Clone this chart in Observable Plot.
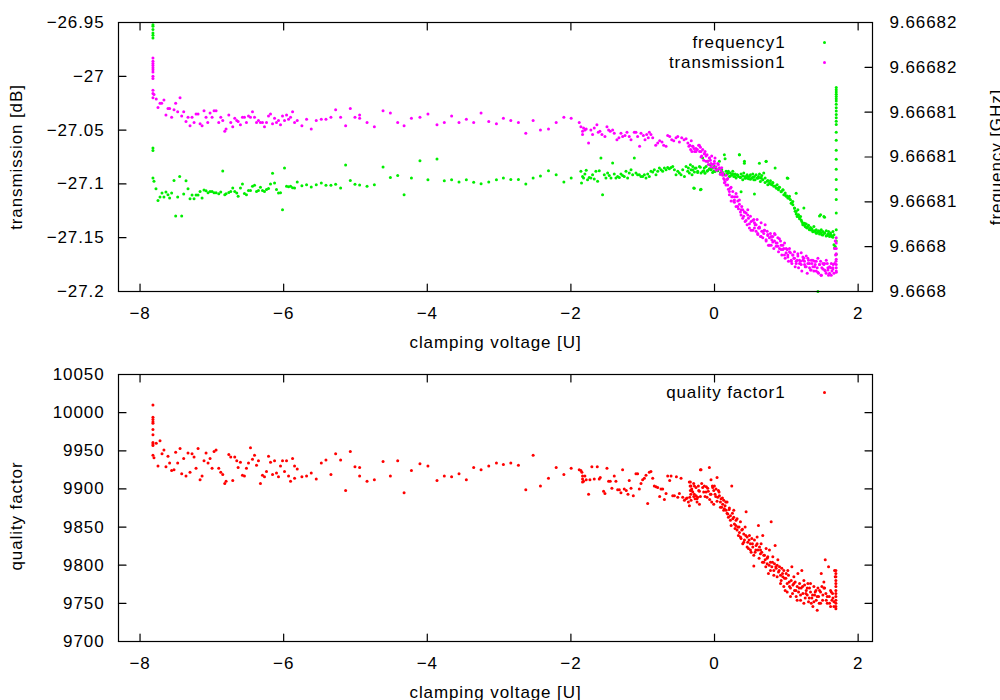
<!DOCTYPE html>
<html><head><meta charset="utf-8">
<script src="https://cdn.jsdelivr.net/npm/d3@7"></script>
<script src="https://cdn.jsdelivr.net/npm/@observablehq/plot@0.6"></script>
<style>
body{margin:0;background:#fff;}
#chart{position:relative;width:1000px;height:700px;overflow:hidden;background:#fff;}
#chart svg{position:absolute;left:0;overflow:visible;}
</style></head><body><div id="chart"></div>
<script>
// ---- axes / ticks ----
const xDomain = [-8.3, 2.2];
const xTicks = [-8, -6, -4, -2, 0, 2];
const transDomain = [-27.2, -26.95];
const transTicks = [-26.95, -27, -27.05, -27.1, -27.15, -27.2];
const freqBaseGHz = 9.6668;              // frequency stored as offset in kHz above this
const freqDomainKHz = [-2, 22];
const freqTicksKHz = [22, 18, 14, 10, 6, 2, -2];
const qDomain = [9700, 10050];
const qTicks = [9700, 9750, 9800, 9850, 9900, 9950, 10000, 10050];

// ---- data: [clamping voltage U, transmission dB] ----
const transmissionData = [
[-7.82,-26.983],[-7.82,-26.986],[-7.82,-26.988],[-7.82,-26.990],[-7.82,-26.992],[-7.82,-26.994],[-7.82,-26.996],[-7.82,-27.000],[-7.82,-27.002],[-7.82,-27.013],[-7.82,-27.016],[-7.82,-27.020],
[-7.806,-27.017],[-7.774,-27.021],[-7.750,-27.029],[-7.722,-27.025],[-7.699,-27.025],[-7.667,-27.022],[-7.639,-27.036],[-7.611,-27.030],[-7.588,-27.030],[-7.560,-27.038],
[-7.527,-27.031],[-7.504,-27.025],[-7.476,-27.033],[-7.443,-27.020],[-7.420,-27.037],[-7.392,-27.033],[-7.360,-27.042],[-7.332,-27.038],[-7.304,-27.046],[-7.276,-27.038],
[-7.248,-27.043],[-7.220,-27.035],[-7.192,-27.035],[-7.164,-27.044],[-7.136,-27.046],[-7.109,-27.032],[-7.081,-27.038],[-7.057,-27.043],[-7.025,-27.034],[-6.997,-27.038],
[-6.969,-27.032],[-6.941,-27.032],[-6.904,-27.043],[-6.876,-27.038],[-6.848,-27.041],[-6.820,-27.051],[-6.802,-27.049],[-6.764,-27.036],[-6.737,-27.043],[-6.709,-27.047],
[-6.681,-27.039],[-6.653,-27.041],[-6.634,-27.042],[-6.602,-27.045],[-6.574,-27.038],[-6.546,-27.038],[-6.518,-27.043],[-6.490,-27.037],[-6.462,-27.038],[-6.434,-27.033],
[-6.406,-27.038],[-6.378,-27.043],[-6.351,-27.041],[-6.323,-27.043],[-6.295,-27.043],[-6.267,-27.047],[-6.239,-27.043],[-6.211,-27.037],[-6.183,-27.035],[-6.155,-27.044],
[-6.127,-27.039],[-6.100,-27.043],[-6.072,-27.041],[-6.044,-27.045],[-6.016,-27.037],[-5.988,-27.041],[-5.960,-27.036],[-5.932,-27.040],[-5.904,-27.038],[-5.876,-27.033],
[-5.848,-27.043],[-5.811,-27.041],[-5.746,-27.046],[-5.681,-27.040],[-5.616,-27.049],[-5.546,-27.041],[-5.476,-27.040],[-5.411,-27.040],[-5.342,-27.038],[-5.276,-27.031],
[-5.207,-27.038],[-5.137,-27.046],[-5.072,-27.030],[-5.007,-27.038],[-4.942,-27.036],[-4.942,-27.039],[-4.839,-27.043],[-4.737,-27.047],[-4.616,-27.032],[-4.514,-27.034],
[-4.412,-27.043],[-4.323,-27.046],[-4.221,-27.039],
[-4.102,-27.038],[-3.991,-27.035],[-3.865,-27.045],[-3.763,-27.043],[-3.661,-27.037],[-3.558,-27.043],[-3.456,-27.040],[-3.354,-27.043],[-3.251,-27.034],[-3.144,-27.042],
[-3.037,-27.044],[-2.940,-27.039],[-2.837,-27.041],[-2.731,-27.043],[-2.628,-27.053],[-2.526,-27.041],[-2.424,-27.050],[-2.312,-27.049],[-2.205,-27.043],[-2.098,-27.038],
[-1.996,-27.039],[-1.884,-27.043],[-1.861,-27.047],[-1.838,-27.051],[-1.824,-27.048],[-1.805,-27.050],[-1.838,-27.054],[-1.787,-27.049],[-1.754,-27.062],[-1.722,-27.050],
[-1.698,-27.054],[-1.675,-27.048],[-1.638,-27.045],[-1.619,-27.052],[-1.596,-27.051],[-1.568,-27.054],[-1.526,-27.056],[-1.498,-27.047],[-1.475,-27.050],[-1.452,-27.051],
[-1.419,-27.050],[-1.396,-27.053],[-1.359,-27.059],[-1.331,-27.057],[-1.303,-27.053],[-1.280,-27.056],[-1.247,-27.055],[-1.219,-27.052],[-1.187,-27.056],[-1.163,-27.059],
[-1.117,-27.052],[-1.094,-27.052],[-1.071,-27.056],[-1.043,-27.065],[-1.024,-27.053],[-0.991,-27.055],[-0.968,-27.059],[-0.945,-27.054],[-0.922,-27.057],[-0.908,-27.052],
[-0.885,-27.054],[-0.861,-27.057],[-0.819,-27.064],[-0.791,-27.062],[-0.764,-27.060],[-0.731,-27.061],[-0.708,-27.064],[-0.675,-27.065],[-0.652,-27.055],[-0.624,-27.056],
[-0.596,-27.059],[-0.568,-27.060],[-0.536,-27.057],[-0.512,-27.056],[-0.489,-27.061],[-0.457,-27.057],[-0.424,-27.059],[-0.396,-27.058],[-0.371,-27.062],[-0.357,-27.065],
[-0.343,-27.064],[-0.333,-27.068],[-0.324,-27.060],[-0.315,-27.070],[-0.301,-27.065],[-0.287,-27.067],[-0.277,-27.070],[-0.259,-27.067],[-0.240,-27.068],[-0.221,-27.064],
[-0.207,-27.070],[-0.196,-27.066],
[-0.188,-27.070],[-0.165,-27.068],[-0.142,-27.072],[-0.118,-27.074],[-0.095,-27.079],[-0.072,-27.076],[-0.049,-27.081],[-0.025,-27.082],[-0.002,-27.079],[0.021,-27.084],
[0.045,-27.081],[0.068,-27.085],[0.091,-27.088],[0.114,-27.090],[0.128,-27.095],[0.147,-27.098],[0.161,-27.092],[0.184,-27.101],[0.193,-27.105],[0.207,-27.110],
[0.221,-27.104],[0.240,-27.112],[0.254,-27.107],[0.268,-27.116],[0.277,-27.115],[0.300,-27.121],[0.314,-27.112],[0.333,-27.123],[0.347,-27.119],[0.361,-27.126],
[0.370,-27.129],[0.393,-27.124],[0.407,-27.130],[0.426,-27.135],[0.440,-27.127],[0.454,-27.138],[0.472,-27.132],[0.486,-27.141],[0.510,-27.135],[0.533,-27.143],
[0.556,-27.136],[0.579,-27.144],[0.603,-27.147],[0.626,-27.141],[0.640,-27.149],[0.658,-27.144],[0.672,-27.150],[0.696,-27.143],[0.719,-27.153],[0.742,-27.147],
[0.765,-27.150],[0.789,-27.157],[0.812,-27.149],[0.835,-27.153],[0.858,-27.158],[0.882,-27.150],[0.905,-27.160],[0.928,-27.157],[0.951,-27.161],[0.975,-27.155],
[0.998,-27.164],[1.021,-27.166],[1.044,-27.160],[1.068,-27.171],[1.091,-27.166],[1.114,-27.163],[1.137,-27.172],[1.161,-27.167],[1.184,-27.174],[1.207,-27.164],
[1.230,-27.171],[1.254,-27.175],[1.277,-27.167],[1.300,-27.174],[1.323,-27.178],[1.347,-27.171],[1.370,-27.177],[1.393,-27.172],[1.416,-27.181],[1.440,-27.169],
[1.463,-27.175],[1.486,-27.185],[1.509,-27.174],[1.533,-27.180],[1.556,-27.171],[1.579,-27.178],[1.602,-27.183],[1.626,-27.174],[1.649,-27.178],[1.663,-27.183],
[1.672,-27.160],[1.681,-27.153],[1.686,-27.166],[1.691,-27.172],[1.695,-27.178],[1.695,-27.181],
[-0.179,-27.074],[-0.151,-27.078],[-0.132,-27.070],[-0.104,-27.073],[-0.086,-27.082],[-0.058,-27.078],[-0.039,-27.074],[-0.011,-27.085],[0.007,-27.076],[0.035,-27.087],
[0.054,-27.082],[0.082,-27.091],[0.100,-27.085],[0.138,-27.099],[0.175,-27.096],[0.231,-27.116],[0.286,-27.112],[0.324,-27.116],[0.379,-27.121],[0.417,-27.126],
[0.463,-27.124],[0.500,-27.130],[0.547,-27.133],[0.565,-27.138],[0.593,-27.133],[0.612,-27.141],[0.649,-27.136],[0.686,-27.146],[0.705,-27.138],[0.733,-27.144],
[0.751,-27.157],[0.779,-27.146],[0.798,-27.152],[0.826,-27.160],[0.844,-27.147],[0.872,-27.155],[0.891,-27.163],[0.919,-27.153],[0.937,-27.166],[0.965,-27.160],
[0.984,-27.169],[1.012,-27.161],[1.030,-27.172],[1.058,-27.164],[1.077,-27.174],[1.105,-27.169],[1.123,-27.177],[1.151,-27.171],[1.170,-27.178],[1.198,-27.172],
[1.216,-27.181],[1.244,-27.169],[1.263,-27.177],[1.291,-27.183],[1.309,-27.171],[1.337,-27.180],[1.356,-27.174],[1.384,-27.181],[1.402,-27.175],[1.430,-27.178],
[1.449,-27.183],[1.477,-27.172],[1.495,-27.178],[1.523,-27.175],[1.542,-27.181],[1.570,-27.174],[1.588,-27.185],[1.616,-27.178],[1.635,-27.181],[1.653,-27.175],
[1.695,-27.150],[1.695,-27.155],[1.695,-27.160],[1.695,-27.165],[1.695,-27.170],[1.695,-27.175],
[-0.305,-27.065],[-0.258,-27.070],[-0.212,-27.064],[-0.188,-27.075],[-0.142,-27.072],[-0.119,-27.079],[-0.072,-27.076],[-0.049,-27.084],[-0.002,-27.081],[0.021,-27.087],
[0.067,-27.086],[0.114,-27.092],[0.137,-27.096],[0.160,-27.101],[0.184,-27.095],[0.207,-27.107],[0.230,-27.103],[0.253,-27.112],[0.277,-27.117],[0.300,-27.109],
[0.323,-27.121],[0.346,-27.115],[0.370,-27.124],[0.393,-27.132],[0.416,-27.126],[0.439,-27.134],[0.463,-27.129],[0.486,-27.137],[0.509,-27.143],[0.532,-27.134],
[0.556,-27.141],[0.579,-27.138],[0.602,-27.146],[0.625,-27.140],[0.649,-27.149],[0.672,-27.144],[0.695,-27.143],[0.718,-27.152],[0.742,-27.148],[0.765,-27.157],
[0.788,-27.149],[0.811,-27.154],[0.835,-27.146],[0.858,-27.155],[0.881,-27.158],[0.904,-27.151],[0.928,-27.161],[0.951,-27.157],[0.974,-27.166],[0.997,-27.160],
[1.021,-27.168],[1.044,-27.163],[1.067,-27.172],[1.090,-27.166],[1.114,-27.169],[1.137,-27.174],[1.160,-27.165],[1.183,-27.171],[1.207,-27.175],[1.230,-27.168],
[1.253,-27.172],[1.276,-27.177],[1.300,-27.169],[1.323,-27.174],[1.346,-27.180],[1.369,-27.171],[1.393,-27.177],[1.416,-27.172],[1.439,-27.182],[1.462,-27.175],
[1.486,-27.185],[1.509,-27.179],[1.532,-27.174],[1.555,-27.183],[1.579,-27.180],[1.602,-27.177],[1.625,-27.185],[1.648,-27.179],[1.672,-27.174],[1.695,-27.182]
];

// ---- data: [clamping voltage U, frequency offset kHz above 9.6668 GHz] ----
const frequencyData = [
[-7.82,21.81],[-7.82,21.66],[-7.82,21.37],[-7.82,21.07],[-7.82,20.86],[-7.82,20.62],[-7.82,10.80],[-7.82,10.59],[-7.82,8.12],
[-7.806,7.83],[-7.778,7.17],[-7.750,6.13],[-7.722,6.43],[-7.694,6.78],[-7.667,6.43],[-7.639,6.87],[-7.611,6.63],[-7.588,6.34],[-7.560,6.78],
[-7.527,7.91],[-7.504,4.73],[-7.476,6.43],[-7.448,8.27],[-7.420,4.73],[-7.392,6.69],[-7.360,7.88],[-7.332,7.17],[-7.304,6.28],[-7.276,6.60],
[-7.248,6.28],[-7.220,6.60],[-7.192,6.60],[-7.164,6.93],[-7.136,6.34],[-7.109,7.05],[-7.081,6.99],[-7.053,6.81],[-7.025,6.93],[-6.997,6.93],
[-6.969,6.81],[-6.941,6.81],[-6.904,6.72],[-6.876,6.87],[-6.848,8.75],[-6.820,6.63],[-6.802,6.72],[-6.764,6.84],[-6.737,6.93],[-6.709,7.23],
[-6.681,6.93],[-6.653,6.78],[-6.634,6.49],[-6.602,7.23],[-6.574,7.59],[-6.546,6.75],[-6.518,6.63],[-6.490,7.02],[-6.462,7.02],[-6.434,7.38],
[-6.406,7.47],[-6.378,6.93],[-6.351,7.02],[-6.323,7.29],[-6.295,7.02],[-6.267,6.93],[-6.239,7.11],[-6.211,7.20],[-6.183,7.59],[-6.155,8.54],
[-6.127,7.68],[-6.100,7.11],[-6.072,6.78],[-6.044,6.81],[-6.016,5.30],[-5.988,9.02],[-5.960,7.38],[-5.932,7.35],[-5.904,7.38],[-5.876,7.26],
[-5.848,7.23],[-5.811,7.77],[-5.746,7.44],[-5.681,7.53],[-5.616,7.32],[-5.546,7.53],[-5.476,7.68],[-5.411,7.47],[-5.342,7.47],[-5.276,7.56],
[-5.207,7.23],[-5.137,9.28],[-5.072,7.91],[-5.007,7.56],[-4.942,7.50],[-4.839,7.38],[-4.737,7.53],[-4.616,9.10],[-4.514,8.18],[-4.412,8.36],
[-4.323,6.63],[-4.221,8.12],
[-4.102,9.67],[-3.991,7.97],[-3.865,9.82],[-3.763,7.88],[-3.661,7.97],[-3.558,7.77],[-3.456,7.97],[-3.354,7.74],[-3.251,7.62],[-3.144,7.77],
[-3.037,7.97],[-2.940,8.12],[-2.837,8.00],[-2.731,8.00],[-2.628,7.59],[-2.526,8.12],[-2.424,8.30],[-2.312,8.78],[-2.205,8.42],[-2.098,7.77],
[-1.996,8.12],[-1.861,8.72],[-1.852,7.68],[-1.838,8.27],[-1.824,8.12],[-1.805,8.48],[-1.787,8.81],[-1.768,7.97],[-1.745,8.18],[-1.722,8.12],
[-1.698,8.42],[-1.675,8.03],[-1.652,8.72],[-1.628,7.83],[-1.605,8.78],[-1.582,9.91],[-1.559,6.63],[-1.535,8.42],[-1.512,8.12],[-1.489,8.57],
[-1.466,8.36],[-1.442,8.12],[-1.419,9.46],[-1.396,8.48],[-1.373,8.12],[-1.349,8.27],[-1.326,8.18],[-1.303,8.48],[-1.280,8.36],[-1.257,8.27],
[-1.233,8.72],[-1.210,8.12],[-1.187,8.57],[-1.163,8.87],[-1.140,8.42],[-1.117,9.91],[-1.094,8.57],[-1.071,8.42],[-1.047,8.42],[-1.024,8.27],
[-1.001,8.27],[-0.977,8.42],[-0.954,8.12],[-0.931,8.48],[-0.908,8.27],[-0.885,8.72],[-0.861,8.66],[-0.838,8.87],[-0.815,8.42],[-0.791,8.72],
[-0.768,9.02],[-0.745,8.87],[-0.722,8.72],[-0.698,9.02],[-0.675,8.87],[-0.652,9.07],[-0.629,8.96],[-0.605,9.07],[-0.582,9.16],[-0.559,8.87],
[-0.536,8.42],[-0.512,8.72],[-0.489,8.57],[-0.466,8.42],[-0.443,8.87],[-0.419,8.27],[-0.396,9.16],[-0.373,8.72],[-0.364,9.02],[-0.350,8.57],
[-0.336,9.31],[-0.327,8.87],[-0.313,8.42],[-0.303,9.16],[-0.289,7.23],[-0.280,8.66],[-0.257,9.02],[-0.234,8.72],[-0.210,9.16],[-0.196,7.08],
[-0.188,8.57],[-0.165,9.91],[-0.151,8.78],[-0.142,9.02],[-0.118,9.16],[-0.104,8.72],[-0.095,9.61],[-0.072,8.96],[-0.058,9.31],[-0.049,8.87],
[-0.025,9.02],[-0.011,8.72],[-0.002,9.16],[0.021,8.96],[0.045,8.78],[0.068,9.61],[0.082,8.57],[0.100,8.87],[0.128,8.48],[0.147,9.85],
[0.161,8.72],[0.175,8.48],[0.193,8.72],[0.207,8.27],[0.221,8.57],[0.240,8.42],[0.254,8.72],[0.268,8.27],[0.286,8.48],[0.300,8.12],
[0.314,8.42],[0.333,8.27],[0.347,10.21],[0.361,8.18],[0.370,8.48],[0.393,7.97],[0.407,8.57],[0.417,9.61],[0.426,8.27],[0.440,8.12],
[0.454,8.42],[0.472,8.06],[0.486,8.27],[0.500,8.42],[0.519,8.12],[0.533,8.48],[0.547,7.97],[0.556,8.27],[0.579,8.42],[0.593,8.12],
[0.612,8.27],[0.626,8.48],[0.640,8.12],[0.649,8.18],[0.658,8.36],[0.672,7.97],[0.686,8.57],[0.705,8.12],[0.719,9.61],[0.733,7.83],
[0.742,7.53],[0.765,7.68],[0.779,7.88],[0.798,7.53],[0.812,7.68],[0.826,7.38],[0.844,9.02],[0.858,7.23],[0.872,7.53],[0.891,7.08],
[0.905,7.29],[0.928,6.93],[0.951,7.08],[0.965,6.63],[0.984,6.78],[0.998,6.49],[1.012,8.12],[1.021,6.34],[1.044,6.49],[1.058,6.19],
[1.077,5.89],[1.091,5.74],[1.114,5.44],[1.123,5.15],[1.137,4.91],[1.151,4.70],[1.161,5.30],[1.170,4.85],[1.184,4.49],[1.198,4.70],
[1.216,4.25],[1.230,3.96],[1.244,5.44],[1.254,4.10],[1.263,3.81],[1.277,4.02],[1.291,3.66],[1.309,3.90],[1.323,3.51],[1.337,3.72],
[1.356,3.60],[1.370,3.42],[1.384,3.81],[1.402,3.36],[1.416,3.51],[1.430,3.21],[1.449,3.42],[1.463,3.36],[1.477,4.85],[1.486,3.51],
[1.495,3.06],[1.509,3.36],[1.523,4.70],[1.533,3.21],[1.556,3.42],[1.570,3.00],[1.588,3.36],[1.602,3.06],[1.616,3.21],[1.635,2.91],
[1.649,3.36],[1.663,3.06],[1.663,2.17],[1.672,1.87],[1.681,2.02],[1.440,-1.99],
[1.695,16.2],[1.695,16.0],[1.695,15.8],[1.695,15.6],[1.695,15.4],[1.695,15.2],[1.695,15.0],[1.695,14.7],[1.695,14.4],[1.695,14.1],
[1.695,13.8],[1.695,13.5],[1.695,13.2],[1.695,12.9],[1.695,12.2],[1.695,11.5],[1.695,10.6],[1.695,9.8],[1.695,8.9],[1.695,8.0],
[1.695,7.1],[1.695,6.2],[1.695,5.0],[1.695,3.5],[1.695,2.5],[1.695,1.3],
[-0.305,8.85],[-0.272,9.00],[-0.235,8.61],[-0.198,9.09],[-0.165,8.70],[-0.133,8.55],[-0.096,8.79],[-0.058,8.91],[-0.026,8.61],[0.007,8.70],
[0.044,8.85],[0.081,8.49],[0.114,8.61],[0.146,8.40],[0.184,8.55],[0.221,8.31],[0.253,8.49],[0.286,8.25],[0.323,8.40],[0.360,8.19],
[0.393,8.31],[0.425,8.10],[0.463,8.25],[0.500,8.02],[0.532,8.19],[0.565,7.96],[0.602,8.10],[0.639,7.81],[0.672,7.96],[0.704,7.72],
[0.742,7.90],[0.779,7.60],[0.811,7.72],[0.844,7.42],[0.872,7.21],[0.900,7.30],[0.928,6.91],[0.955,7.06],[0.983,6.62],[1.011,6.53],
[1.039,6.32],[1.067,5.87],[1.090,6.02],[1.114,5.43],[1.137,5.13],[1.160,4.83],[1.183,4.62],[1.207,4.38],[1.230,4.09],[1.253,3.94],
[1.276,3.73],[1.300,3.79],[1.323,3.55],[1.346,3.49],[1.369,3.34],[1.393,3.43],[1.416,3.19],[1.439,3.34],[1.462,3.13],[1.486,3.25],
[1.509,3.05],[1.532,3.19],[1.555,2.96],[1.579,3.13],[1.602,2.90],[1.625,3.02],[1.648,2.84],[0.137,10.19],[0.346,10.19],[0.416,9.44],
[0.625,9.44],[0.718,9.59],[1.021,8.10],[1.137,6.77],[1.462,4.74],[1.532,4.62],[-0.282,7.21],[-0.188,7.12],[0.370,6.91],[0.556,6.71]
];

// ---- data: [clamping voltage U, quality factor] ----
const qualityData = [
[-7.82,10010],[-7.82,9994],[-7.82,9991],[-7.82,9988],[-7.82,9986],[-7.82,9978],[-7.82,9971],[-7.82,9961],[-7.82,9959],[-7.82,9957],[-7.82,9944],
[-7.806,9941],[-7.774,9960],[-7.750,9930],[-7.722,9963],[-7.694,9946],[-7.667,9951],[-7.639,9929],[-7.611,9943],[-7.588,9934],[-7.560,9924],
[-7.527,9925],[-7.504,9948],[-7.476,9934],[-7.443,9953],[-7.420,9920],[-7.392,9940],[-7.360,9917],[-7.332,9947],[-7.304,9922],[-7.276,9946],
[-7.248,9942],[-7.220,9927],[-7.192,9953],[-7.164,9912],[-7.136,9917],[-7.109,9937],[-7.081,9947],[-7.053,9934],[-7.025,9940],[-6.997,9927],
[-6.969,9949],[-6.941,9951],[-6.904,9927],[-6.876,9922],[-6.848,9919],[-6.820,9907],[-6.802,9910],[-6.764,9945],[-6.737,9942],[-6.709,9911],
[-6.681,9942],[-6.653,9937],[-6.634,9928],[-6.602,9935],[-6.574,9918],[-6.546,9917],[-6.518,9927],[-6.490,9934],[-6.462,9954],[-6.434,9939],
[-6.406,9944],[-6.378,9931],[-6.351,9937],[-6.323,9907],[-6.295,9918],[-6.267,9916],[-6.239,9923],[-6.211,9943],[-6.183,9935],[-6.155,9919],
[-6.127,9937],[-6.100,9921],[-6.072,9916],[-6.044,9930],[-6.016,9937],[-5.988,9923],[-5.960,9937],[-5.932,9917],[-5.904,9910],[-5.876,9940],
[-5.848,9930],[-5.811,9926],[-5.848,9914],[-5.746,9916],[-5.681,9917],[-5.616,9921],[-5.546,9913],[-5.476,9934],[-5.411,9938],[-5.342,9919],
[-5.276,9946],[-5.207,9938],[-5.137,9898],[-5.072,9949],[-5.007,9929],[-4.942,9928],[-4.942,9917],[-4.839,9910],[-4.737,9912],[-4.616,9936],
[-4.514,9917],[-4.412,9937],[-4.323,9895],[-4.221,9924],
[-4.102,9933],[-3.991,9930],[-3.865,9911],[-3.763,9917],[-3.661,9916],[-3.558,9920],[-3.456,9912],[-3.354,9928],[-3.251,9925],[-3.144,9930],
[-3.037,9934],[-2.940,9932],[-2.837,9934],[-2.731,9931],[-2.628,9899],[-2.526,9944],[-2.424,9904],[-2.312,9914],[-2.205,9928],[-2.098,9919],
[-1.996,9927],[-1.884,9925],[-1.861,9924],[-1.847,9922],[-1.838,9917],[-1.838,9913],[-1.838,9909],[-1.824,9910],[-1.805,9917],[-1.787,9912],
[-1.754,9893],[-1.735,9912],[-1.708,9929],[-1.675,9913],[-1.633,9929],[-1.605,9913],[-1.591,9915],[-1.545,9897],[-1.526,9894],[-1.498,9927],
[-1.475,9910],[-1.452,9910],[-1.429,9901],[-1.396,9917],[-1.373,9910],[-1.349,9899],[-1.326,9899],[-1.303,9895],[-1.280,9925],[-1.257,9900],
[-1.229,9898],[-1.205,9893],[-1.187,9911],[-1.163,9901],[-1.131,9891],[-1.094,9920],[-1.071,9920],[-1.047,9900],[-1.024,9907],[-1.001,9912],
[-0.977,9914],[-0.954,9918],[-0.931,9881],[-0.908,9922],[-0.885,9923],[-0.861,9914],[-0.838,9904],[-0.815,9903],[-0.791,9902],[-0.764,9890],
[-0.745,9900],[-0.722,9900],[-0.698,9886],[-0.675,9894],[-0.652,9917],[-0.624,9911],[-0.605,9917],[-0.582,9891],[-0.559,9891],[-0.531,9916],
[-0.512,9889],[-0.489,9894],[-0.466,9914],[-0.443,9889],[-0.419,9885],[-0.396,9887],[-0.382,9888],[-0.364,9883],[-0.350,9878],[-0.345,9889],
[-0.340,9904],[-0.336,9909],[-0.336,9898],[-0.331,9893],[-0.327,9885],[-0.317,9900],[-0.303,9896],[-0.289,9890],[-0.280,9904],[-0.271,9887],
[-0.257,9891],[-0.243,9883],[-0.234,9889],[-0.220,9898],[-0.210,9880],[-0.196,9925],
[-0.188,9925],[-0.165,9902],[-0.142,9904],[-0.118,9896],[-0.104,9889],[-0.095,9901],[-0.072,9928],[-0.058,9893],[-0.049,9912],[-0.039,9883],
[-0.025,9902],[-0.011,9898],[-0.002,9904],[0.007,9893],[0.021,9900],[0.035,9915],[0.045,9889],[0.054,9898],[0.068,9891],[0.082,9883],
[0.091,9887],[0.100,9876],[0.114,9880],[0.128,9885],[0.138,9874],[0.147,9878],[0.161,9872],[0.175,9883],[0.184,9867],[0.193,9863],
[0.207,9875],[0.221,9865],[0.231,9852],[0.240,9904],[0.254,9861],[0.268,9872],[0.277,9854],[0.286,9848],[0.300,9859],[0.314,9846],
[0.324,9850],[0.333,9839],[0.347,9843],[0.361,9857],[0.370,9835],[0.379,9846],[0.393,9828],[0.407,9841],[0.417,9833],[0.426,9850],
[0.440,9870],[0.454,9837],[0.463,9830],[0.472,9822],[0.486,9839],[0.500,9828],[0.510,9817],[0.519,9835],[0.533,9824],[0.547,9799],
[0.556,9833],[0.565,9817],[0.579,9826],[0.593,9837],[0.603,9820],[0.612,9852],[0.626,9824],[0.640,9815],[0.649,9828],[0.658,9817],
[0.672,9839],[0.686,9804],[0.696,9813],[0.705,9807],[0.719,9822],[0.733,9802],[0.742,9811],[0.751,9789],[0.765,9820],[0.779,9804],
[0.789,9857],[0.798,9798],[0.812,9811],[0.826,9793],[0.835,9802],[0.844,9826],[0.858,9796],[0.872,9800],[0.882,9807],[0.891,9791],
[0.905,9798],[0.919,9787],[0.928,9780],[0.937,9796],[0.951,9785],[0.965,9793],[0.975,9783],[0.984,9767],[0.998,9789],[1.012,9776],
[1.021,9793],[1.030,9787],[1.044,9772],[1.058,9759],[1.068,9780],[1.077,9798],[1.091,9774],[1.105,9785],[1.114,9767],[1.123,9778],
[1.137,9759],[1.151,9772],[1.161,9789],[1.170,9765],[1.184,9776],[1.198,9754],[1.207,9770],[1.216,9793],[1.230,9763],[1.244,9780],
[1.254,9774],[1.263,9757],[1.277,9767],[1.291,9761],[1.300,9776],[1.309,9752],[1.323,9770],[1.337,9765],[1.347,9750],[1.356,9757],
[1.370,9746],[1.384,9772],[1.393,9761],[1.402,9765],[1.416,9754],[1.430,9741],[1.440,9770],[1.449,9759],[1.463,9767],[1.477,9750],
[1.486,9789],[1.495,9772],[1.509,9761],[1.523,9778],[1.533,9770],[1.542,9807],[1.556,9754],[1.570,9759],[1.588,9798],[1.602,9750],
[1.616,9746],[1.626,9765],[1.635,9754],[1.649,9757],[1.663,9746],[1.672,9793],[1.681,9785],
[1.69,9793],[1.69,9789],[1.69,9785],[1.69,9780],[1.69,9776],[1.69,9772],[1.69,9767],[1.69,9763],[1.69,9759],[1.69,9754],[1.69,9750],[1.69,9746],[1.69,9743],
[-0.351,9909],[-0.328,9904],[-0.318,9898],[-0.290,9907],[-0.281,9893],[-0.258,9902],[-0.244,9887],[-0.225,9904],[-0.211,9897],[-0.197,9890],
[-0.179,9907],[-0.151,9896],[-0.132,9890],[-0.114,9903],[-0.086,9897],[-0.067,9886],[-0.049,9893],[-0.030,9904],[-0.011,9880],[0.017,9890],
[0.035,9884],[0.063,9896],[0.082,9876],[0.110,9888],[0.128,9872],[0.156,9883],[0.175,9868],[0.203,9873],[0.221,9859],[0.249,9868],
[0.268,9863],[0.296,9852],[0.314,9861],[0.342,9850],[0.361,9837],[0.389,9847],[0.407,9830],[0.435,9839],[0.454,9824],[0.482,9833],
[0.500,9820],[0.528,9828],[0.547,9813],[0.575,9820],[0.593,9828],[0.621,9809],[0.640,9820],[0.668,9804],[0.686,9813],[0.714,9798],
[0.733,9809],[0.761,9800],[0.779,9793],[0.807,9804],[0.826,9787],[0.854,9798],[0.872,9785],[0.900,9793],[0.919,9776],[0.947,9789],
[0.965,9772],[0.993,9783],[1.012,9765],[1.040,9778],[1.058,9770],[1.086,9763],[1.105,9776],[1.133,9767],[1.151,9754],[1.179,9770],
[1.198,9761],[1.226,9772],[1.244,9750],[1.272,9763],[1.291,9770],[1.319,9757],[1.337,9776],[1.365,9761],[1.384,9752],[1.412,9767],
[1.430,9759],[1.458,9750],[1.477,9765],[1.505,9754],[1.523,9770],[1.551,9763],[1.570,9750],[1.598,9759],[1.616,9767],[1.644,9763],[1.663,9752]
];

// ---- styling ----
const FONT = "'Liberation Sans', Arial, Helvetica, sans-serif";
const GREEN = "#00ee00", MAGENTA = "#ff00ff", RED = "#ff0000";
const TICK = 7.5, R = 1.5;
const tickShape = {draw(ctx, l) { ctx.moveTo(0, 0); ctx.lineTo(0, -l); }};
const minus = s => s.replace("-", "\u2212");
const fmtG = d => minus(String(+(+d).toFixed(4)));

// frequency (kHz offset) mapped onto the transmission scale for the second y axis
const kHzToT = k => transDomain[0] + (k - freqDomainKHz[0]) / (freqDomainKHz[1] - freqDomainKHz[0]) * (transDomain[1] - transDomain[0]);
const tToKHz = t => freqDomainKHz[0] + (t - transDomain[0]) / (transDomain[1] - transDomain[0]) * (freqDomainKHz[1] - freqDomainKHz[0]);
const freqLabel = k => {
  const ghz = freqBaseGHz + Math.round(k) * 1e-6;
  return String(parseFloat(ghz.toPrecision(6)));
};

const baseStyle = {fontFamily: FONT, fontSize: "17px", letterSpacing: "0.9px", background: "transparent", color: "black", overflow: "visible"};

function ticksMarks(yTicksLeft, yTicksRight) {
  return [
    Plot.vectorX(xTicks, {frameAnchor: "bottom", rotate: 0, length: TICK, anchor: "start", shape: tickShape, stroke: "black", strokeWidth: 1.2}),
    Plot.vectorX(xTicks, {frameAnchor: "top", rotate: 180, length: TICK, anchor: "start", shape: tickShape, stroke: "black", strokeWidth: 1.2}),
    Plot.vectorY(yTicksLeft, {frameAnchor: "left", rotate: 90, length: TICK, anchor: "start", shape: tickShape, stroke: "black", strokeWidth: 1.2}),
    Plot.vectorY(yTicksRight, {frameAnchor: "right", rotate: -90, length: TICK, anchor: "start", shape: tickShape, stroke: "black", strokeWidth: 1.2})
  ];
}

const common = {
  width: 1000, height: 350,
  marginLeft: 118, marginRight: 128, marginTop: 22, marginBottom: 59,
  style: baseStyle,
  x: {domain: xDomain, axis: null}
};

const topPlot = Plot.plot({
  ...common,
  y: {domain: transDomain, axis: null},
  marks: [
    Plot.dot(frequencyData, {x: d => d[0], y: d => kHzToT(d[1]), r: R, fill: GREEN}),
    Plot.dot(transmissionData, {x: d => d[0], y: d => d[1], r: R, fill: MAGENTA}),
    Plot.frame({stroke: "black", strokeWidth: 1.2}),
    ...ticksMarks(transTicks, freqTicksKHz.map(kHzToT)),
    Plot.axisX({ticks: xTicks, tickSize: 0, tickPadding: 15, label: null, tickFormat: fmtG}),
    Plot.axisY({ticks: transTicks, tickSize: 0, tickPadding: 14, label: null, tickFormat: fmtG}),
    Plot.axisY({anchor: "right", ticks: freqTicksKHz.map(kHzToT), tickSize: 0, tickPadding: 17, label: null,
      tickFormat: t => freqLabel(tToKHz(t))}),
    Plot.text(["clamping voltage [U]"], {frameAnchor: "bottom", dy: 51.5, textAnchor: "middle", lineAnchor: "middle"}),
    Plot.text(["transmission [dB]"], {frameAnchor: "left", dx: -102, rotate: -90, textAnchor: "middle", lineAnchor: "middle"}),
    Plot.text(["frequency [GHz]"], {frameAnchor: "right", dx: 124, rotate: -90, textAnchor: "middle", lineAnchor: "middle"}),
    Plot.text(["frequency1"], {frameAnchor: "top-right", dx: -87, dy: 20, textAnchor: "end", lineAnchor: "middle"}),
    Plot.text(["transmission1"], {frameAnchor: "top-right", dx: -87, dy: 40, textAnchor: "end", lineAnchor: "middle"}),
    Plot.dot([0], {frameAnchor: "top-right", dx: -48, dy: 20, r: R, fill: GREEN}),
    Plot.dot([0], {frameAnchor: "top-right", dx: -48, dy: 40, r: R, fill: MAGENTA})
  ]
});

const bottomPlot = Plot.plot({
  ...common,
  marginTop: 24,
  y: {domain: qDomain, axis: null},
  marks: [
    Plot.dot(qualityData, {x: d => d[0], y: d => d[1], r: R, fill: RED}),
    Plot.frame({stroke: "black", strokeWidth: 1.2}),
    ...ticksMarks(qTicks, qTicks),
    Plot.axisX({ticks: xTicks, tickSize: 0, tickPadding: 15, label: null, tickFormat: fmtG}),
    Plot.axisY({ticks: qTicks, tickSize: 0, tickPadding: 14, label: null, tickFormat: d => String(d)}),
    Plot.text(["clamping voltage [U]"], {frameAnchor: "bottom", dy: 51.5, textAnchor: "middle", lineAnchor: "middle"}),
    Plot.text(["quality factor"], {frameAnchor: "left", dx: -102, dy: 8, rotate: -90, textAnchor: "middle", lineAnchor: "middle"}),
    Plot.text(["quality factor1"], {frameAnchor: "top-right", dx: -87, dy: 18, textAnchor: "end", lineAnchor: "middle"}),
    Plot.dot([0], {frameAnchor: "top-right", dx: -48, dy: 18, r: R, fill: RED})
  ]
});

const chart = document.getElementById("chart");
topPlot.style.top = "0px";
bottomPlot.style.top = "350px";
chart.appendChild(topPlot);
chart.appendChild(bottomPlot);
</script>
</body></html>
